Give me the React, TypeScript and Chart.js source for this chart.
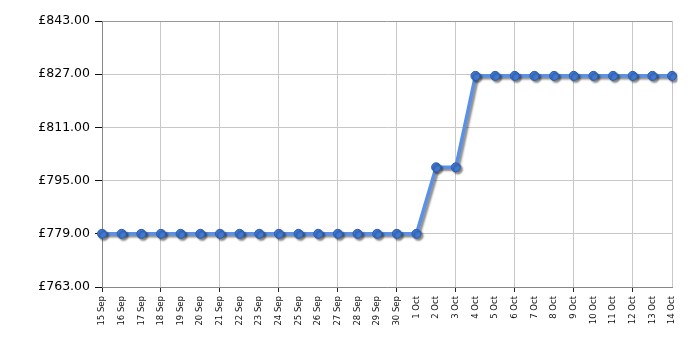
import React, { useEffect, useRef } from "react";
import { Chart, registerables } from "chart.js";

Chart.register(...registerables);

const categories: string[] = [
  "15 Sep", "16 Sep", "17 Sep", "18 Sep", "19 Sep", "20 Sep", "21 Sep", "22 Sep",
  "23 Sep", "24 Sep", "25 Sep", "26 Sep", "27 Sep", "28 Sep", "29 Sep", "30 Sep",
  "1 Oct", "2 Oct", "3 Oct", "4 Oct", "5 Oct", "6 Oct", "7 Oct", "8 Oct",
  "9 Oct", "10 Oct", "11 Oct", "12 Oct", "13 Oct", "14 Oct",
];

const prices: number[] = [
  779, 779, 779, 779, 779, 779, 779, 779,
  779, 779, 779, 779, 779, 779, 779, 779,
  779, 799, 799, 826.5, 826.5, 826.5, 826.5, 826.5,
  826.5, 826.5, 826.5, 826.5, 826.5, 826.5,
];

const yMin = 763;
const yMax = 843;
const yStep = 16;

const shadowPlugin = {
  id: "shadowPlugin",
  beforeDatasetsDraw(chart: any) {
    const ctx = chart.ctx;
    ctx.save();
    ctx.shadowColor = "rgba(0,0,0,0.45)";
    ctx.shadowOffsetX = 2;
    ctx.shadowOffsetY = 2;
    ctx.shadowBlur = 2;
  },
  afterDatasetsDraw(chart: any) {
    chart.ctx.restore();
  },
};

export default function App() {
  const ref = useRef<HTMLCanvasElement | null>(null);

  useEffect(() => {
    document.body.style.margin = "0";
    const canvas = ref.current;
    if (!canvas) return;
    const chart = new Chart(canvas, {
      type: "line",
      data: {
        labels: categories,
        datasets: [
          {
            data: prices,
            borderColor: "#5a90e6",
            borderWidth: 3.5,
            tension: 0,
            pointRadius: 4.5,
            pointBorderWidth: 1,
            pointBackgroundColor: "#4079d4",
            pointBorderColor: "#2c5eae",
          },
        ],
      },
      options: {
        animation: false,
        responsive: false,
        maintainAspectRatio: false,
        layout: { padding: { left: 0, top: 21, right: 28, bottom: 0 } },
        plugins: {
          legend: { display: false },
          tooltip: { enabled: false },
        },
        scales: {
          x: {
            offset: false,
            afterFit: (s: any) => {
              s.height = 63;
            },
            grid: {
              color: (c: any) =>
                c.index % 3 === 0 || c.index === categories.length - 1 ? "#c8c8c8" : "rgba(0,0,0,0)",
              tickColor: (c: any) => (c.index % 3 === 0 ? "#222" : "rgba(0,0,0,0)"),
              tickLength: 5,
            },
            border: { color: "#888", width: 1 },
            ticks: {
              autoSkip: false,
              minRotation: 90,
              maxRotation: 90,
              padding: 4,
              color: "#111",
              font: { family: "DejaVu Sans, Verdana, sans-serif", size: 8.5 },
            },
          },
          y: {
            min: yMin,
            max: yMax,
            afterFit: (s: any) => {
              s.width = 102;
            },
            grid: {
              color: (c: any) => (c.tick && c.tick.value === yMax ? "#999" : "#c8c8c8"),
              tickColor: "#111",
              tickLength: 7,
            },
            border: { color: "#888", width: 1 },
            ticks: {
              stepSize: yStep,
              padding: 5,
              color: "#000",
              font: { family: "DejaVu Sans, Verdana, sans-serif", size: 12.5 },
              callback: (v: any) => "£" + Number(v).toFixed(2),
            },
          },
        },
      },
      plugins: [shadowPlugin],
    });
    return () => chart.destroy();
  }, []);

  return (
    <div style={{ width: 700, height: 350 }}>
      <canvas ref={ref} width={700} height={350} />
    </div>
  );
}
